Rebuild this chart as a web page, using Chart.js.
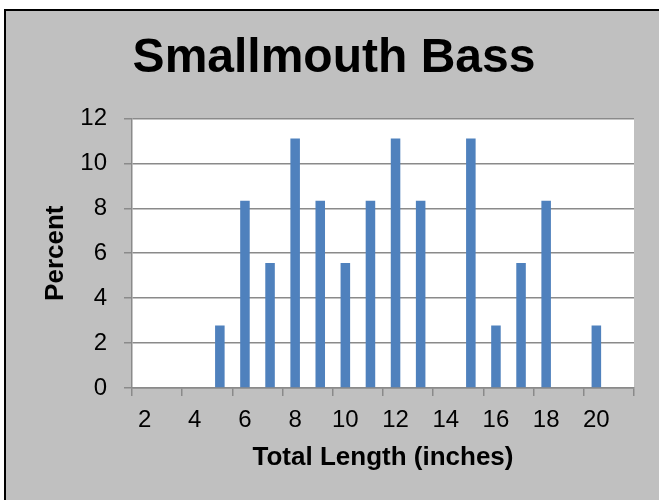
<!DOCTYPE html>
<html>
<head>
<meta charset="utf-8">
<script src="https://cdn.jsdelivr.net/npm/chart.js@4"></script>
<style>
  html, body { margin: 0; padding: 0; background: #fff; overflow: hidden; }
  #frame { position: absolute; left: 4px; top: 9px; width: 700px; height: 600px;
           border: 2px solid #000; background: #c0c0c0; }
  #wrap { position: absolute; left: 0; top: 0; width: 659px; height: 500px; }
</style>
</head>
<body>
<div id="frame"></div>
<div id="wrap"><canvas id="chart"></canvas></div>
<script>
// length classes (inches) and percent of fish in each
const lengthLabels = ['2', '3', '4', '5', '6', '7', '8', '9', '10', '11',
                      '12', '13', '14', '15', '16', '17', '18', '19', '20', '21'];
const percentValues = [0, 0, 0, 2.78, 8.33, 5.56, 11.11, 8.33, 5.56, 8.33,
                       11.11, 8.33, 0, 11.11, 2.78, 5.56, 8.33, 0, 2.78, 0];
const yTicks = { min: 0, max: 12, step: 2 };

const FONT = '"Liberation Sans", Arial, sans-serif';
const GRID = '#8a8a8a';
const BAR = '#4f81bd';

// white plot area
const plotBackground = {
    id: 'plotBackground',
    beforeDraw(chart) {
        const { ctx, chartArea: a } = chart;
        ctx.save();
        ctx.fillStyle = '#ffffff';
        ctx.fillRect(a.left, a.top, a.right - a.left, a.bottom - a.top);
        ctx.restore();
    }
};

const ctx = document.getElementById('chart').getContext('2d');
new Chart(ctx, {
    type: 'bar',
    data: {
        labels: lengthLabels,
        datasets: [{
            label: 'Percent',
            data: percentValues,
            backgroundColor: BAR,
            borderWidth: 0,
            categoryPercentage: 1.0,
            barPercentage: 0.38
        }]
    },
    options: {
        responsive: true,
        maintainAspectRatio: false,
        animation: false,
        layout: { padding: { left: 9, right: 0, top: 0, bottom: 0 } },
        plugins: {
            legend: { display: false },
            tooltip: { enabled: false },
            title: {
                display: true,
                text: 'Smallmouth Bass',
                color: '#000',
                font: { family: FONT, size: 48, weight: 'bold', lineHeight: 1.2 },
                padding: { top: 30.4, bottom: 30.4 }
            }
        },
        scales: {
            x: {
                offset: true,
                afterFit: (s) => { s.height = 112; },
                grid: {
                    offset: true,
                    drawOnChartArea: false,
                    tickLength: 8,
                    lineWidth: 1.5,
                    color: (c) => (c.index === undefined || c.index % 2 === 0) ? GRID : 'rgba(0,0,0,0)'
                },
                border: { display: true, color: GRID, width: 1.5 },
                ticks: {
                    autoSkip: false,
                    maxRotation: 0,
                    padding: 10,
                    color: '#000',
                    font: { family: FONT, size: 24 },
                    callback: function (value) {
                        const lbl = this.getLabelForValue(value);
                        return Number(lbl) % 2 === 0 ? lbl : '';
                    }
                },
                title: {
                    display: true,
                    text: 'Total Length (inches)',
                    color: '#000',
                    font: { family: FONT, size: 26, weight: 'bold', lineHeight: 1.2 },
                    padding: { top: 0, bottom: 26.4 }
                }
            },
            y: {
                min: yTicks.min,
                max: yTicks.max,
                afterFit: (s) => { s.width = 123; },
                grid: { color: GRID, lineWidth: 1.5, tickLength: 8 },
                border: { display: true, color: GRID, width: 1.5 },
                ticks: {
                    stepSize: yTicks.step,
                    padding: 17,
                    color: '#000',
                    font: { family: FONT, size: 24 }
                },
                title: {
                    display: true,
                    text: 'Percent',
                    color: '#000',
                    font: { family: FONT, size: 26, weight: 'bold', lineHeight: 1.2 },
                    padding: { top: 31.4, bottom: 0 }
                }
            },
            // empty right gutter so the plot ends where the reference does
            gutter: {
                type: 'linear',
                position: 'right',
                display: true,
                afterFit: (s) => { s.width = 25; },
                grid: { display: false },
                border: { display: false },
                ticks: { display: false }
            }
        }
    },
    plugins: [plotBackground]
});
</script>
</body>
</html>
